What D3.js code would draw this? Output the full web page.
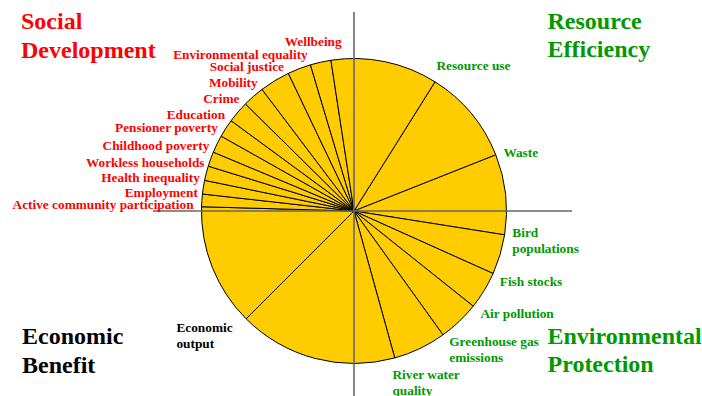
<!DOCTYPE html>
<html>
<head>
<meta charset="utf-8">
<script src="https://cdn.jsdelivr.net/npm/d3@7"></script>
<style>
  html, body { margin: 0; padding: 0; background: #fff; }
  svg { display: block; }
</style>
</head>
<body>
<svg id="chart" width="702" height="396"></svg>
<script>
// ---- Data ----
const indicators = [
  "Resource use", "Waste", "Bird\npopulations", "Fish stocks", "Air pollution",
  "Greenhouse gas\nemissions", "River water\nquality", "Economic\noutput",
  "Active community participation", "Employment", "Health inequality",
  "Workless households", "Childhood poverty", "Pensioner poverty", "Education",
  "Crime", "Mobility", "Social justice", "Environmental equality", "Wellbeing"
];
const indicatorGroup = [
  "Resource Efficiency", "Resource Efficiency",
  "Environmental Protection", "Environmental Protection", "Environmental Protection",
  "Environmental Protection", "Environmental Protection",
  "Economic Benefit",
  "Social Development", "Social Development", "Social Development", "Social Development",
  "Social Development", "Social Development", "Social Development", "Social Development",
  "Social Development", "Social Development", "Social Development", "Social Development"
];
// angular share (degrees) of the wedge that follows each indicator's spoke
const wedgeSpans = [36.3, 30.6, 15.2, 14.4, 15.7, 20.2, 60.5, 46.6, 4.8, 5.2,
                    5.5, 5.6, 6.7, 6.9, 8.3, 8.3, 11.6, 8.9, 7.9, 40.8];
// indicator scores (index, all at baseline)
const scores = [100, 100, 100, 100, 100, 100, 100, 100, 100, 100,
                100, 100, 100, 100, 100, 100, 100, 100, 100, 100];
const groupNames = ["Social Development", "Resource Efficiency", "Economic Benefit", "Environmental Protection"];
const groupTitleLines = [["Social", "Development"], ["Resource", "Efficiency"], ["Economic", "Benefit"], ["Environmental", "Protection"]];

// ---- Layout / style (not data) ----
const FONT = "'Liberation Serif', Tinos, 'Times New Roman', Times, 'DejaVu Serif', serif";
const groupColor = {
  "Social Development": "#ff0000",
  "Resource Efficiency": "#009900",
  "Economic Benefit": "#000000",
  "Environmental Protection": "#009900"
};
const titlePos = {
  "Social Development": [21, 29],
  "Resource Efficiency": [547.5, 28.5],
  "Economic Benefit": [22, 344],
  "Environmental Protection": [547.5, 343.5]
};
const labelNudge = {
  "Resource use": [1.4, -12.3, "start"],
  "Waste": [7.6, 2.3, "start"],
  "Bird\npopulations": [7.7, 2, "start"],
  "Fish stocks": [6.7, 12, "start"],
  "Air pollution": [7.3, 12.3, "start"],
  "Greenhouse gas\nemissions": [6.3, 11, "start"],
  "River water\nquality": [-2.3, 21, "start"],
  "Economic\noutput": [-69.7, 12.7, "start"],
  "Active community participation": [-8, 2.6, "end"],
  "Employment": [-4.6, 2.7, "end"],
  "Health inequality": [-4.7, 2, "end"],
  "Workless households": [-3.7, 0.7, "end"],
  "Childhood poverty": [-4, -2.4, "end"],
  "Pensioner poverty": [-3.3, -4, "end"],
  "Education": [-6, -1.4, "end"],
  "Crime": [-6, -1, "end"],
  "Mobility": [-4.3, -2, "end"],
  "Social justice": [-4.4, -2.3, "end"],
  "Environmental equality": [-2.7, -6, "end"],
  "Wellbeing": [10.7, -14, "end"]
};
const cx = 354, cy = 211, R = 152.5;
const startDeg = 32.1;

const svg = d3.select("#chart");
const rows = indicators.map((name, i) => ({ name, group: indicatorGroup[i], span: wedgeSpans[i], score: scores[i] }));

const rScale = d3.scaleLinear().domain([0, 100]).range([0, R]);
const toRad = d => d * Math.PI / 180;
const pie = d3.pie().sort(null).value(d => d.span)
  .startAngle(toRad(startDeg)).endAngle(toRad(startDeg) + 2 * Math.PI);
const arcs = pie(rows);
const arc = d3.arc().innerRadius(0).outerRadius(d => rScale(d.data.score));

const g = svg.append("g").attr("transform", `translate(${cx},${cy})`);

g.selectAll("path.wedge").data(arcs).join("path")
  .attr("class", "wedge")
  .attr("d", arc)
  .attr("fill", "#ffcc00")
  .attr("stroke", "#000")
  .attr("stroke-width", 1)
  .attr("stroke-linejoin", "round");

// axes
g.append("line").attr("x1", 0).attr("x2", 0).attr("y1", 12 - cy).attr("y2", 396 - cy)
  .attr("stroke", "#666").attr("stroke-width", 1.6);
g.append("line").attr("x1", 153 - cx).attr("x2", 572 - cx).attr("y1", 0).attr("y2", 0)
  .attr("stroke", "#666").attr("stroke-width", 1.6);

// indicator labels at spoke ends
arcs.forEach(a => {
  const ang = a.startAngle;
  const r = rScale(a.data.score);
  const ex = cx + r * Math.sin(ang), ey = cy - r * Math.cos(ang);
  const nd = labelNudge[a.data.name] || [4, 0, "start"];
  const t = svg.append("text")
    .attr("x", ex + nd[0]).attr("y", ey + nd[1])
    .attr("text-anchor", nd[2])
    .attr("font-family", FONT)
    .attr("font-weight", "bold")
    .attr("font-size", 13.3)
    .attr("fill", groupColor[a.data.group]);
  a.data.name.split("\n").forEach((line, k) => {
    t.append("tspan").attr("x", ex + nd[0]).attr("y", ey + nd[1] + k * 16).text(line);
  });
});

// quadrant titles
groupNames.forEach((gn, i) => {
  const p = titlePos[gn];
  const t = svg.append("text").attr("x", p[0]).attr("y", p[1])
    .attr("font-family", FONT)
    .attr("font-weight", "bold")
    .attr("font-size", 24).attr("fill", groupColor[gn]);
  groupTitleLines[i].forEach((line, k) => {
    t.append("tspan").attr("x", p[0]).attr("y", p[1] + k * 28.5).text(line);
  });
});
</script>
</body>
</html>
